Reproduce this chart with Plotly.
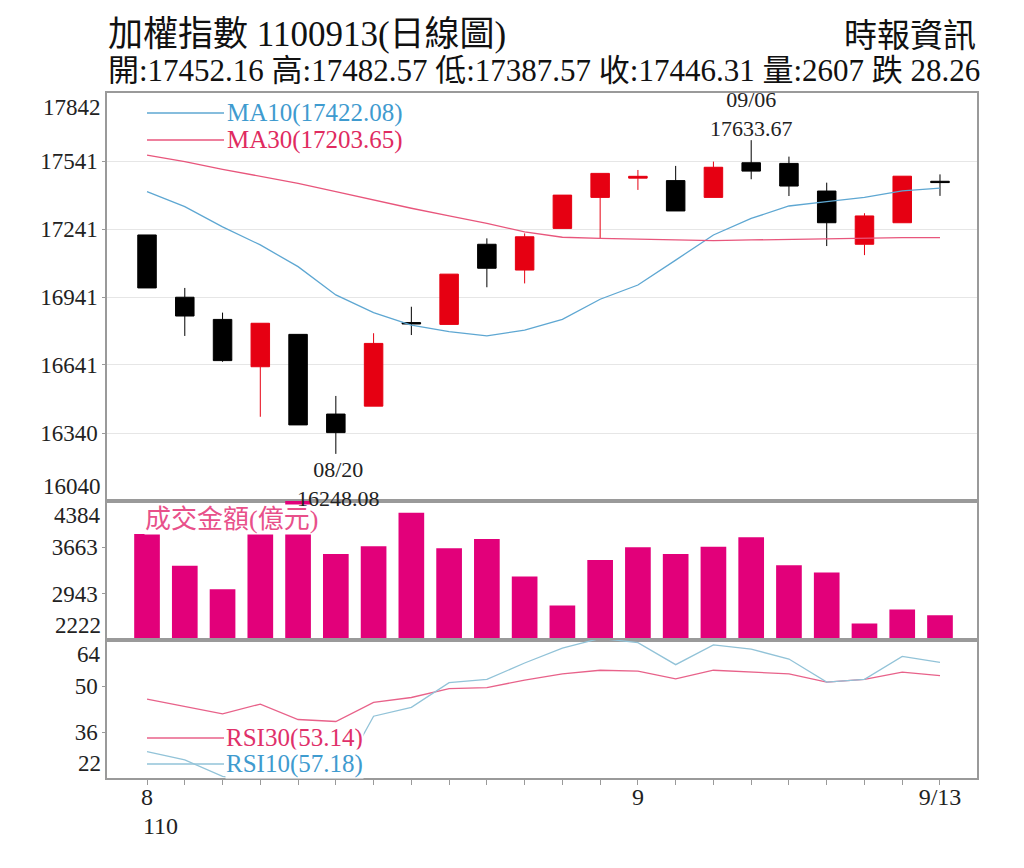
import plotly.graph_objects as go
from plotly.subplots import make_subplots

# trading days (110/08/13 - 110/09/13)
dates = ['08/13', '08/16', '08/17', '08/18', '08/19', '08/20', '08/23', '08/24',
         '08/25', '08/26', '08/27', '08/30', '08/31', '09/01', '09/02', '09/03',
         '09/06', '09/07', '09/08', '09/09', '09/10', '09/13']

open_ = [17215, 16940, 16842, 16633, 16776, 16424, 16459, 16828, 16820, 17174, 17060,
         17244, 17381, 17466, 17455, 17381, 17534, 17531, 17409, 17174, 17269, 17452.16]
high = [17215, 16981, 16872, 16825, 16776, 16504, 16781, 16898, 17042, 17200, 17222,
        17391, 17487, 17502, 17520, 17539, 17633.67, 17561, 17446, 17311, 17474.57, 17482.57]
low = [16981, 16769, 16655, 16412, 16376, 16248.08, 16459, 16773, 16820, 16984, 17001,
       17244, 17200, 17414, 17321, 17381, 17461, 17387, 17166, 17126, 17269, 17387.57]
close = [16981, 16857, 16660, 16825, 16376, 16342, 16736, 16822, 17042, 17068, 17207,
         17391, 17487, 17474, 17321, 17514, 17497, 17431, 17269, 17299, 17474.57, 17446.31]

ma10 = [17406, 17340, 17251, 17171, 17075, 16950, 16872, 16817, 16788, 16769, 16795,
        16842, 16931, 16994, 17104, 17215, 17288, 17343, 17362, 17381, 17410, 17422.08]
ma30 = [17568, 17539, 17505, 17475, 17443, 17406, 17369, 17333, 17299, 17266, 17229,
        17205, 17200, 17196, 17193, 17190, 17193, 17196, 17198, 17200, 17203, 17203.65]

# 成交金額(億元)
volume = [3872, 3375, 3010, 3903, 4450, 3559, 3679, 4201, 3648, 3794, 3209,
          2760, 3465, 3664, 3559, 3673, 3820, 3386, 3272, 2477, 2697, 2607]

rsi30 = [46.0, 43.8, 41.5, 44.5, 39.8, 39.2, 45.0, 46.5, 49.2, 49.5, 51.8,
         53.7, 54.8, 54.5, 52.2, 54.8, 54.3, 53.7, 51.2, 52.0, 54.2, 53.14]
rsi10 = [30.0, 27.5, 22.5, 21.0, 19.0, 20.0, 40.8, 43.5, 51.0, 52.0, 57.0,
         61.5, 64.5, 63.2, 56.5, 62.5, 61.2, 58.2, 51.2, 52.0, 59.0, 57.18]

price_ticks = [17541, 17241, 16941, 16641, 16340]
vol_ticks = [3663, 2943]
rsi_ticks = [50, 36]
x_ticktext = ['8' if d == '08/13' else '9' if d == '09/01' else '9/13' if d == '09/13' else ''
              for d in dates]

FONT = "Liberation Serif, 'Noto Sans CJK TC', serif"
RED = '#e60012'
PINK = '#e2007a'
BLUE_LINE = '#5ea7d2'
RED_LINE = '#e8567c'

# plot area in page pixels; the page body adds an 8px margin
OFF = 8
L, R, T, B = 107, 977, 93, 778


def px(x):
    return (x - L) / (R - L)


def py(y):
    return (B - y) / (B - T)


fig = make_subplots(rows=3, cols=1, shared_xaxes=True, vertical_spacing=0,
                    row_heights=[408, 139, 138])

fig.add_trace(go.Candlestick(
    x=dates, open=open_, high=high, low=low, close=close,
    increasing=dict(line=dict(color=RED, width=1), fillcolor=RED),
    decreasing=dict(line=dict(color='#000000', width=1), fillcolor='#000000'),
    whiskerwidth=0, showlegend=False), row=1, col=1)
fig.add_trace(go.Scatter(x=dates, y=ma10, mode='lines', line=dict(color=BLUE_LINE, width=1.3),
                         showlegend=False), row=1, col=1)
fig.add_trace(go.Scatter(x=dates, y=ma30, mode='lines', line=dict(color=RED_LINE, width=1.3),
                         showlegend=False), row=1, col=1)

fig.add_trace(go.Bar(x=dates, y=volume, marker=dict(color=PINK, line=dict(width=0)),
                     showlegend=False), row=2, col=1)

fig.add_trace(go.Scatter(x=dates, y=rsi30, mode='lines', line=dict(color='#e8628a', width=1.3),
                         showlegend=False), row=3, col=1)
fig.add_trace(go.Scatter(x=dates, y=rsi10, mode='lines', line=dict(color='#92c3d8', width=1.3),
                         showlegend=False), row=3, col=1)

axis_common = dict(showline=True, mirror=True, linecolor='#9a9a9a', linewidth=1.5)
for i in (1, 2, 3):
    fig.update_xaxes(type='category', range=[-1.06, 21.98], showgrid=False, row=i, col=1,
                     rangeslider_visible=False, **axis_common)
fig.update_xaxes(showticklabels=False, row=1, col=1)
fig.update_xaxes(showticklabels=False, row=2, col=1)
fig.update_xaxes(tickmode='array', tickvals=dates, ticktext=x_ticktext, ticks='outside',
                 ticklen=5, tickcolor='#9a9a9a', ticklabelstandoff=-9,
                 tickfont=dict(size=24, color='#222'), row=3, col=1)

ytick = dict(tickmode='array', zeroline=False, ticks='outside', ticklen=3,
             tickcolor='#9a9a9a', tickfont=dict(size=23, color='#222'))
fig.update_yaxes(range=[16040, 17842], tickvals=price_ticks,
                 ticktext=[str(v) for v in price_ticks],
                 showgrid=True, gridcolor='#e6e6e6', gridwidth=1,
                 row=1, col=1, **ytick, **axis_common)
fig.update_yaxes(range=[2222, 4384], tickvals=vol_ticks, ticktext=[str(v) for v in vol_ticks],
                 showgrid=False, row=2, col=1, **ytick, **axis_common)
fig.update_yaxes(range=[22, 64], tickvals=rsi_ticks, ticktext=[str(v) for v in rsi_ticks],
                 showgrid=False, row=3, col=1, **ytick, **axis_common)

ann = []
# titles
ann.append(dict(text='加權指數 1100913(日線圖)', x=px(106), y=py(34), xanchor='left',
                yanchor='middle', font=dict(size=35, color='#111')))
ann.append(dict(text='開:17452.16 高:17482.57 低:17387.57 收:17446.31 量:2607 跌 28.26',
                x=px(106), y=py(70), xanchor='left', yanchor='middle',
                font=dict(size=31, color='#111')))
ann.append(dict(text='時報資訊', x=px(978), y=py(36), xanchor='right', yanchor='middle',
                font=dict(size=33, color='#111')))
# legends
ann.append(dict(text='MA10(17422.08)', x=px(225), y=py(113), xanchor='left', yanchor='middle',
                font=dict(size=25, color='#3f9bcf')))
ann.append(dict(text='MA30(17203.65)', x=px(225), y=py(140), xanchor='left', yanchor='middle',
                font=dict(size=25, color='#e02b5f')))
ann.append(dict(text='成交金額(億元)', x=px(144), y=py(504), xanchor='left', yanchor='top',
                bgcolor='white', borderpad=0, font=dict(size=26, color='#e8508a')))
ann.append(dict(text='RSI30(53.14)', x=px(225), y=py(738), xanchor='left', yanchor='middle',
                bgcolor='white', borderpad=0, font=dict(size=25, color='#e0306a')))
ann.append(dict(text='RSI10(57.18)', x=px(225), y=py(764), xanchor='left', yanchor='middle',
                bgcolor='white', borderpad=0, font=dict(size=25, color='#3f9bcf')))
for a in ann:
    a.update(xref='paper', yref='paper', showarrow=False)

# extreme axis labels drawn inside the panel edges
edge = [('y', 17842, 'top'), ('y', 16040, 'bottom'), ('y2', 4384, 'top'),
        ('y2', 2222, 'bottom'), ('y3', 64, 'top'), ('y3', 22, 'bottom')]
for yref, v, anchor in edge:
    ann.append(dict(text=str(v), xref='paper', yref=yref, x=0, y=v, xanchor='right',
                    yanchor=anchor, xshift=-4, showarrow=False,
                    font=dict(size=23, color='#222')))

# high / low marks
ann.append(dict(text='08/20<br>16248.08', xref='x', yref='y', x='08/20', y=min(low),
                xanchor='center', yanchor='top', yshift=-1, xshift=3, showarrow=False,
                font=dict(size=22, color='#222')))
ann.append(dict(text='09/06<br>17633.67', xref='x', yref='y', x='09/06', y=max(high),
                xanchor='center', yanchor='bottom', yshift=-3, showarrow=False,
                font=dict(size=22, color='#222')))
ann.append(dict(text='110', xref='x3', yref='paper', x=dates[0], y=py(826), xanchor='left',
                yanchor='middle', xshift=-6, showarrow=False, font=dict(size=24, color='#222')))

shapes = []
for y, c in [(113, BLUE_LINE), (140, RED_LINE), (738, '#e8628a'), (764, '#92c3d8')]:
    shapes.append(dict(type='line', xref='paper', yref='paper', x0=px(147), x1=px(224),
                       y0=py(y), y1=py(y), line=dict(color=c, width=1.3)))

fig.update_layout(
    width=1024 - OFF, height=868 - OFF,
    margin=dict(l=L - OFF, r=1024 - R, t=T - OFF, b=868 - B),
    paper_bgcolor='white', plot_bgcolor='white',
    font=dict(family=FONT, color='#222'),
    bargap=0.32,
    annotations=ann, shapes=shapes,
    showlegend=False,
)
fig.write_html("out.html")
